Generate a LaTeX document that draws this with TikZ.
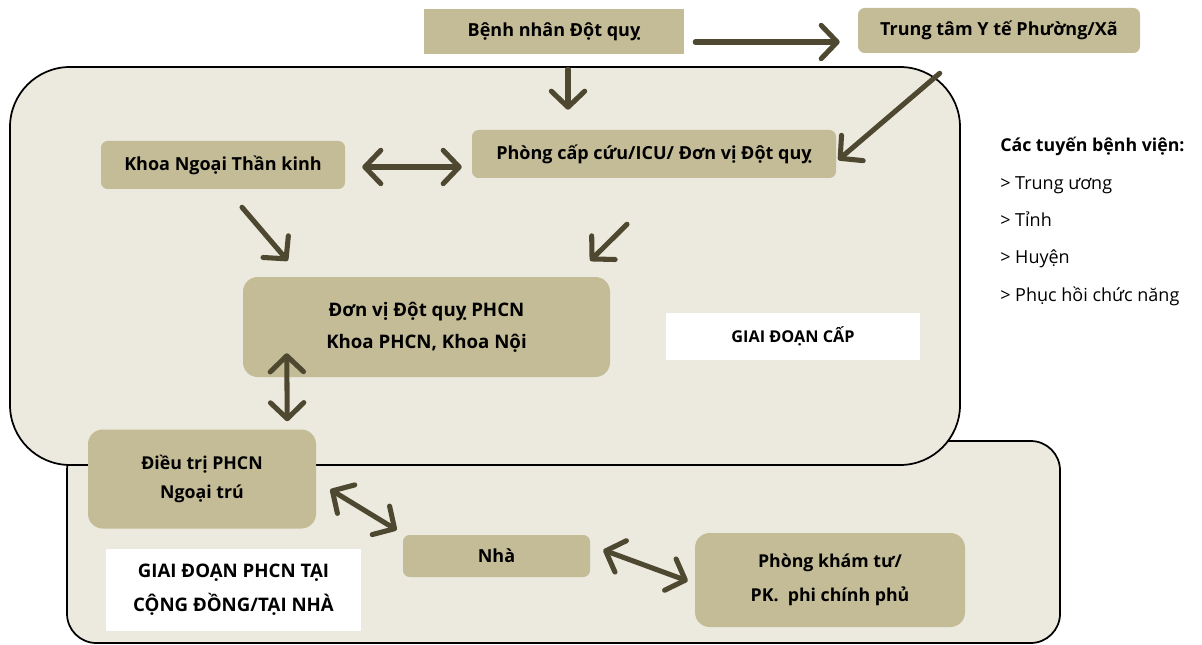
\documentclass[tikz,border=0pt]{standalone}
\usepackage{fontspec}
\setmainfont{Open Sans}
\usetikzlibrary{arrows.meta,calc}

\definecolor{panelfill}{HTML}{ECE9DF}
\definecolor{boxfill}{HTML}{C4BC97}
\definecolor{arrowcol}{HTML}{4D482F}

\tikzset{
  panel/.style={draw=black, line width=1.3pt, fill=panelfill},
  box/.style={fill=boxfill, rounded corners=5pt, inner sep=0pt, font=\bfseries\fontsize{13.5}{24}\selectfont, align=center},
  bigbox/.style={box, rounded corners=11pt},
  whitebox/.style={fill=white, inner sep=0pt, align=center, font=\bfseries\fontsize{14}{25.5}\selectfont},
  legend/.style={anchor=base west, inner sep=0pt, font=\fontsize{13.5}{16}\selectfont},
  barb/.tip={Straight Barb[length=12pt,width=25pt,line cap=round,line join=round]},
  arr/.style={draw=arrowcol, line width=3.8pt, line cap=round, line join=round, -barb},
  darr/.style={arr, barb-barb}
}

\begin{document}
\begin{tikzpicture}[x=0.75pt, y=-0.75pt]
\useasboundingbox (0,0) rectangle (1202,645);

% stage panels
\draw[panel, rounded corners=22pt] (67,441) rectangle (1060,643);
\draw[panel, rounded corners=45pt] (10,67) rectangle (960,465);

% top row
\node[box, rounded corners=0pt, minimum width=260*0.75pt, minimum height=45*0.75pt] (bn) at (554,31.5) {Bệnh nhân Đột quỵ};
\node[box, minimum width=282*0.75pt, minimum height=45*0.75pt] (ttyt) at (999,30.5) {Trung tâm Y tế Phường/Xã};

% acute stage
\node[box, minimum width=364*0.75pt, minimum height=48*0.75pt] (pcc) at (654,154) {Phòng cấp cứu/ICU/ Đơn vị Đột quỵ};
\node[box, minimum width=244*0.75pt, minimum height=48*0.75pt] (kn) at (223,165) {Khoa Ngoại Thần kinh};
\node[bigbox, minimum width=367*0.75pt, minimum height=100*0.75pt, font=\bfseries\fontsize{14}{24}\selectfont] (dv) at (426.5,327) {Đơn vị Đột quỵ PHCN\\Khoa PHCN, Khoa Nội};
\node[whitebox, minimum width=254*0.75pt, minimum height=47*0.75pt, font=\bfseries\fontsize{12.2}{14}\selectfont] (gdc) at (793,336.5) {GIAI ĐOẠN CẤP};

% community stage
\node[bigbox, minimum width=228*0.75pt, minimum height=99*0.75pt, font=\bfseries\fontsize{13.3}{22}\selectfont] (dt) at (202,479) {Điều trị PHCN\\Ngoại trú};
\node[box, minimum width=187*0.75pt, minimum height=42*0.75pt] (nha) at (496.5,556) {Nhà};
\node[bigbox, minimum width=270*0.75pt, minimum height=94*0.75pt, font=\bfseries\fontsize{13.3}{25.5}\selectfont] (pk) at (830,580) {Phòng khám tư/\\PK.\ \ phi chính phủ};
\node[whitebox, minimum width=255*0.75pt, minimum height=82*0.75pt] (gdpc) at (233.5,590) {GIAI ĐOẠN PHCN TẠI\\CỘNG ĐỒNG/TẠI NHÀ};

% hospital levels
\node[legend, font=\bfseries\fontsize{13.3}{16}\selectfont] (lg0) at (1000,152) {Các tuyến bệnh viện:};
\node[legend] (lg1) at (1000,190) {> Trung ương};
\node[legend] (lg2) at (1000,227) {> Tỉnh};
\node[legend] (lg3) at (1000,263) {> Huyện};
\node[legend] (lg4) at (1000,301) {> Phục hồi chức năng};

% connectors
\draw[arr] ($(bn.south)+(14,15)$) -- ($(pcc.north)+(-86,-20)$);
\draw[arr] ($(bn.east)+(11,10.5)$) -- ($(ttyt.west)+(-18,11.5)$);
\draw[arr] ($(ttyt.south west)+(82,20)$) -- ($(pcc.east)+(2,6)$);
\draw[darr] ($(kn.east)+(17,2)$) -- ($(pcc.west)+(-10,13)$);
\draw[arr] ($(kn.south)+(19,18)$) -- ($(dv.north west)+(45,-16)$);
\draw[arr] ($(pcc.south)+(-27,46)$) -- ($(dv.north east)+(-20,-16)$);
\draw[darr] ($(dv.south west)+(44,-24)$) -- ($(dt.north east)+(-29,-8)$);
\draw[darr] ($(dt.east)+(14,10.5)$) -- ($(nha.west)+(-6,-26)$);
\draw[darr] ($(nha.east)+(13,-6)$) -- ($(pk.west)+(-7,1)$);
\end{tikzpicture}
\end{document}
